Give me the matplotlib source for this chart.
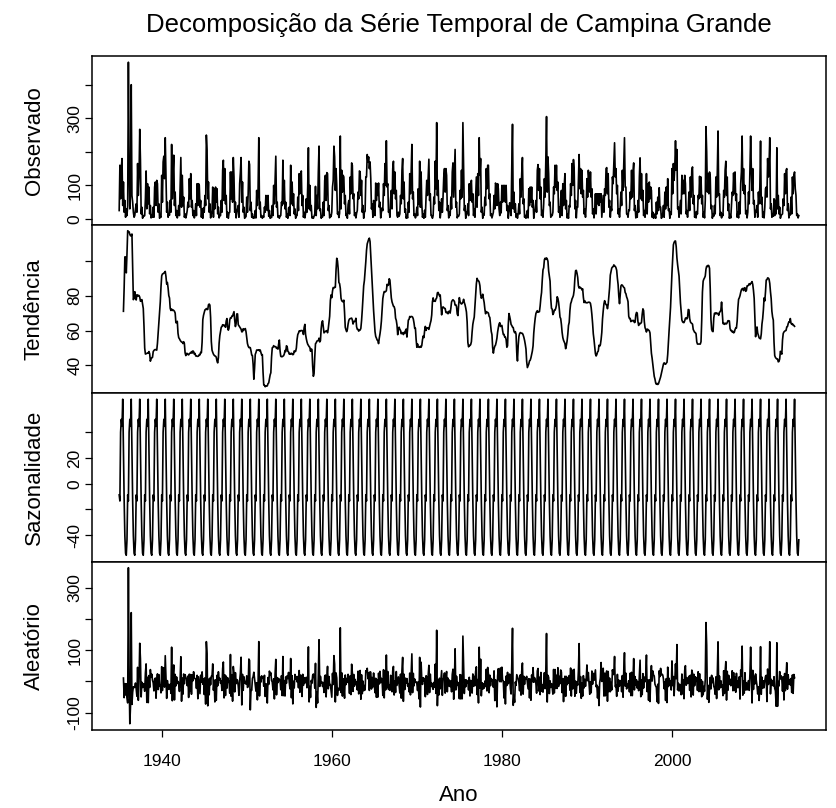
import numpy as np
import matplotlib
matplotlib.use("Agg")
import matplotlib.pyplot as plt

plt.rcParams['font.family'] = ['Liberation Sans', 'DejaVu Sans']

# precipitacao mensal (mm), jan..dez
inicio = 1935
chuva_1935_1939 = [
    [25, 160, 60, 150, 180, 40, 110, 20, 55, 5, 30, 10],
    [40, 467, 180, 30, 80, 400, 70, 50, 20, 5, 10, 30],
    [45, 20, 165, 70, 125, 267, 177, 15, 35, 2, 10, 8],
    [10, 60, 143, 30, 105, 45, 95, 15, 40, 3, 12, 5],
    [35, 5, 95, 110, 40, 115, 105, 20, 45, 2, 8, 5],
]
chuva_1940s = [
    [130, 50, 170, 187, 120, 242, 130, 20, 50, 5, 15, 11],
    [55, 20, 222, 60, 140, 190, 40, 80, 10, 25, 3, 15],
    [40, 10, 100, 183, 35, 130, 40, 65, 5, 15, 3, 12],
    [25, 50, 35, 120, 60, 135, 35, 55, 10, 25, 3, 12],
    [45, 10, 105, 40, 105, 100, 35, 55, 5, 30, 2, 33],
    [20, 70, 40, 250, 205, 60, 110, 20, 45, 3, 15, 22],
    [95, 5, 90, 30, 95, 50, 90, 15, 35, 3, 12, 10],
    [55, 20, 145, 175, 55, 150, 45, 70, 5, 20, 2, 18],
    [20, 140, 60, 140, 50, 183, 125, 20, 50, 3, 20, 29],
    [40, 5, 105, 138, 183, 50, 110, 20, 35, 2, 5, 7],
]
chuva_1950s = [
    [65, 20, 75, 172, 162, 25, 50, 5, 15, 2, 6, 3],
    [25, 3, 85, 40, 90, 242, 30, 50, 5, 10, 2, 8],
    [5, 35, 20, 70, 65, 25, 70, 8, 25, 2, 8, 4],
    [40, 10, 100, 45, 120, 187, 35, 50, 5, 8, 2, 10],
    [10, 50, 40, 175, 45, 115, 30, 50, 5, 15, 2, 33],
    [35, 10, 160, 45, 110, 40, 75, 15, 30, 2, 10, 10],
    [65, 25, 135, 75, 125, 143, 40, 70, 5, 20, 3, 17],
    [60, 20, 95, 212, 30, 100, 25, 40, 3, 5, 2, 8],
    [15, 97, 10, 70, 30, 140, 217, 25, 30, 2, 8, 6],
    [50, 10, 115, 130, 55, 138, 135, 25, 40, 3, 12, 7],
]
chuva_1960s = [
    [20, 95, 115, 217, 185, 85, 150, 100, 15, 20, 4, 17],
    [247, 30, 145, 80, 130, 125, 45, 70, 10, 15, 2, 43],
    [55, 15, 125, 75, 167, 160, 60, 75, 10, 18, 3, 17],
    [25, 80, 60, 143, 140, 70, 115, 20, 40, 2, 20, 23],
    [125, 125, 192, 170, 185, 150, 170, 120, 30, 45, 5, 55],
    [45, 10, 107, 55, 105, 70, 107, 35, 50, 3, 20, 33],
    [25, 105, 70, 165, 100, 233, 95, 105, 20, 25, 5, 60],
    [85, 30, 150, 172, 75, 140, 60, 85, 10, 5, 20, 8],
    [15, 70, 45, 145, 180, 60, 110, 20, 30, 2, 10, 3],
    [50, 20, 135, 75, 140, 222, 60, 80, 10, 15, 3, 10],
]
chuva_1970s = [
    [35, 10, 90, 45, 172, 35, 140, 45, 5, 15, 2, 26],
    [5, 65, 115, 70, 125, 178, 55, 75, 10, 10, 2, 10],
    [65, 45, 172, 90, 287, 70, 115, 25, 50, 3, 23, 60],
    [20, 67, 125, 150, 80, 150, 130, 25, 40, 3, 20, 10],
    [65, 30, 140, 167, 65, 140, 207, 35, 50, 3, 10, 8],
    [15, 85, 60, 145, 65, 287, 160, 25, 40, 2, 20, 16],
    [45, 10, 105, 55, 100, 115, 50, 75, 10, 30, 5, 70],
    [125, 35, 135, 70, 242, 130, 180, 20, 35, 2, 15, 11],
    [65, 40, 150, 90, 160, 160, 60, 75, 10, 15, 3, 12],
    [20, 70, 30, 107, 100, 40, 105, 90, 30, 10, 50, 18],
]
chuva_1980s = [
    [100, 50, 100, 55, 100, 50, 100, 25, 40, 2, 20, 48],
    [35, 10, 160, 282, 30, 80, 20, 45, 5, 15, 2, 16],
    [45, 15, 120, 65, 135, 183, 45, 60, 5, 10, 2, 15],
    [25, 3, 90, 40, 95, 50, 95, 35, 55, 2, 20, 30],
    [55, 20, 145, 162, 85, 150, 60, 95, 10, 25, 5, 45],
    [120, 65, 175, 305, 80, 185, 135, 40, 50, 5, 10, 10],
    [20, 95, 75, 160, 95, 160, 85, 110, 20, 35, 5, 60],
    [85, 10, 105, 40, 100, 135, 30, 55, 3, 15, 2, 40],
    [35, 105, 70, 165, 100, 177, 150, 30, 55, 3, 35, 35],
    [110, 192, 90, 150, 75, 145, 65, 85, 15, 30, 5, 40],
]
chuva_1990s = [
    [120, 65, 145, 120, 80, 140, 65, 90, 15, 30, 3, 27],
    [75, 15, 75, 45, 75, 40, 75, 50, 75, 5, 40, 70],
    [20, 90, 70, 150, 153, 75, 135, 35, 55, 5, 35, 25],
    [125, 105, 165, 227, 125, 150, 75, 100, 15, 30, 5, 35],
    [80, 40, 145, 85, 165, 242, 95, 95, 15, 15, 5, 27],
    [25, 80, 60, 145, 65, 140, 167, 25, 40, 3, 20, 5],
    [55, 20, 125, 182, 60, 135, 55, 85, 10, 25, 5, 35],
    [135, 15, 105, 50, 110, 60, 95, 85, 5, 20, 2, 8],
    [15, 2, 50, 15, 65, 25, 93, 35, 35, 2, 5, 16],
    [40, 5, 80, 30, 95, 40, 120, 25, 30, 2, 20, 13],
]
chuva_2000s = [
    [150, 75, 165, 115, 155, 233, 145, 207, 30, 35, 5, 30],
    [55, 15, 130, 75, 115, 75, 130, 105, 15, 25, 5, 30],
    [80, 25, 125, 65, 145, 155, 45, 70, 5, 20, 3, 22],
    [15, 70, 60, 127, 65, 125, 45, 70, 5, 20, 3, 55],
    [275, 200, 80, 135, 75, 140, 125, 30, 40, 2, 15, 8],
    [40, 15, 125, 65, 140, 262, 70, 75, 10, 20, 3, 15],
    [10, 85, 65, 145, 172, 70, 125, 25, 45, 2, 13, 3],
    [40, 80, 70, 137, 75, 140, 55, 75, 5, 20, 3, 50],
    [15, 105, 140, 247, 85, 150, 75, 100, 15, 25, 3, 20],
    [80, 45, 150, 247, 150, 85, 150, 45, 55, 5, 25, 20],
]
chuva_2010_2014 = [
    [40, 5, 80, 45, 95, 232, 45, 65, 5, 20, 3, 35],
    [90, 95, 65, 180, 125, 160, 242, 30, 45, 5, 15, 8],
    [60, 10, 55, 15, 212, 30, 70, 15, 35, 2, 10, 13],
    [15, 60, 40, 135, 75, 145, 150, 25, 45, 3, 15, 12],
    [65, 15, 125, 75, 130, 140, 90, 70, 10, 15, 3, 10],
]

titulo = "Decomposição da Série Temporal de Campina Grande"
rotulos_y = ["Observado", "Tendência", "Sazonalidade", "Aleatório"]
ticks_y = [[0, 100, 200, 300, 400], [40, 60, 80, 100],
           [-40, -20, 0, 20, 40], [-100, 0, 100, 200, 300]]
textos_ticks_y = [["0", "100", "", "300", ""], ["40", "60", "80", ""],
                  ["-40", "", "0", "20", ""], ["-100", "", "100", "", "300"]]
anos_x = [1940, 1960, 1980, 2000]


def decompor(x, f=12):   # igual ao decompose() aditivo do R
    filtro = np.r_[0.5, np.ones(f - 1), 0.5] / f
    tend = np.full(len(x), np.nan)
    tend[f // 2:len(x) - f // 2] = np.convolve(x, filtro, mode='valid')
    det = x - tend
    fig_saz = np.array([np.nanmean(det[i::f]) for i in range(f)])
    fig_saz = fig_saz - fig_saz.mean()
    saz = np.tile(fig_saz, len(x) // f)
    return tend, saz, x - tend - saz


obs = np.concatenate([np.ravel(d) for d in (chuva_1935_1939, chuva_1940s, chuva_1950s,
                                            chuva_1960s, chuva_1970s, chuva_1980s,
                                            chuva_1990s, chuva_2000s, chuva_2010_2014)]).astype(float)
tempo = inicio + np.arange(len(obs)) / 12
tend, saz, alea = decompor(obs)
series = [obs, tend, saz, alea]

W, H = 836, 808
fig = plt.figure(figsize=(W / 100, H / 100), dpi=100)
x0, x1 = 92, 826
topo, base = 56, 730
alt = (base - topo) / 4

span = tempo[-1] - tempo[0]
xlim = (tempo[0] - 0.04 * span, tempo[-1] + 0.04 * span)

for i, serie in enumerate(series):
    y_top = topo + alt * i
    ax = fig.add_axes([x0 / W, 1 - (y_top + alt) / H, (x1 - x0) / W, alt / H])
    ax.plot(tempo, serie, color='black', lw=1.2)
    lo, hi = np.nanmin(serie), np.nanmax(serie)
    pad = 0.04 * (hi - lo)
    ax.set_ylim(lo - pad, hi + pad)
    ax.set_xlim(*xlim)
    ax.set_yticks(ticks_y[i])
    ax.set_yticklabels(textos_ticks_y[i], rotation=90, va='center')
    ax.tick_params(axis='y', direction='out', length=5, width=0.9, labelsize=12.5, pad=2)
    ax.set_ylabel(rotulos_y[i], fontsize=16)
    ax.yaxis.set_label_coords((45 - x0) / (x1 - x0), 0.5)
    for s in ax.spines.values():
        s.set_linewidth(1.1)
    if i < 3:
        ax.set_xticks([])
    else:
        ax.set_xticks(anos_x)
        ax.set_xticklabels([str(a) for a in anos_x])
        ax.tick_params(axis='x', direction='out', length=5, width=0.9, labelsize=12.5, pad=12)
        ax.set_xlabel("Ano", fontsize=16, labelpad=12)

fig.text(((x0 + x1) / 2) / W, 1 - 25 / H, titulo, ha='center', va='center', fontsize=18.5)

fig.savefig("out.png", dpi=100)
